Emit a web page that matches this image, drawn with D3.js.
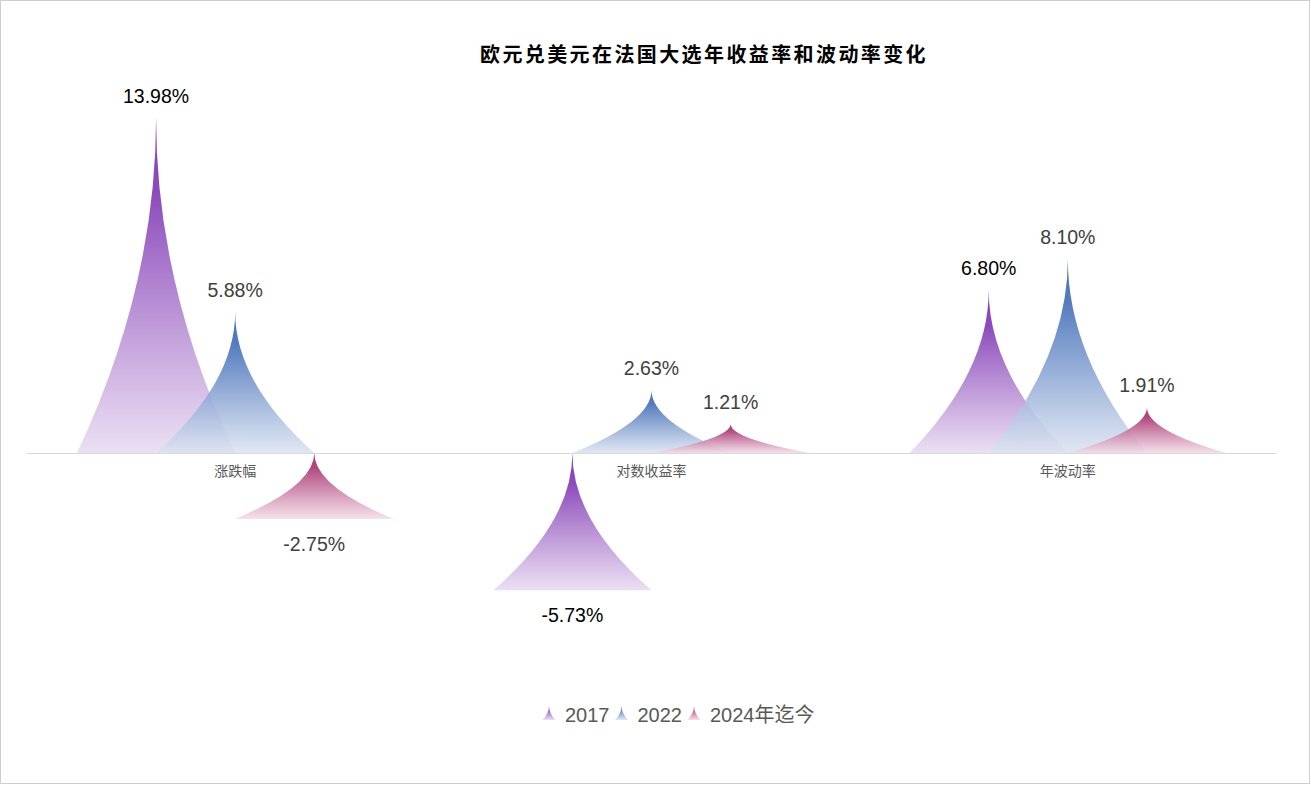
<!DOCTYPE html>
<html>
<head>
<meta charset="utf-8">
<script src="https://cdn.jsdelivr.net/npm/d3@7/dist/d3.min.js"></script>
<style>
  body { margin: 0; background: #fff; }
  text { font-family: "Liberation Sans", "Noto Sans CJK SC", sans-serif; }
</style>
</head>
<body>
<svg id="chart" width="1311" height="795"></svg>
<script>
// data (percent)
const categories = ['涨跌幅', '对数收益率', '年波动率'];
const seriesNames = ['2017', '2022', '2024年迄今'];
const values2017 = [13.98, -5.73, 6.80];
const values2022 = [5.88, 2.63, 8.10];
const values2024 = [-2.75, 1.21, 1.91];
const seriesValues = [values2017, values2022, values2024];

const colors = [
  { id: 'g2017', dark: '#8641b8', pale: '#e8daf1', label: '#000000' },
  { id: 'g2022', dark: '#4b74bb', pale: '#dbe3f1', label: '#404040' },
  { id: 'g2024', dark: '#ac3f78', pale: '#f3dbe6', label: '#404040' }
];

const svg = d3.select('#chart');

svg.append('rect')
  .attr('x', 0.5).attr('y', 0.5)
  .attr('width', 1309).attr('height', 783)
  .attr('fill', '#fff')
  .attr('stroke', '#cfcfcf');

const defs = svg.append('defs');
colors.forEach(function(c) {
  const grad = defs.append('linearGradient')
    .attr('id', c.id)
    .attr('x1', 0).attr('y1', 0).attr('x2', 0).attr('y2', 1);
  grad.append('stop').attr('offset', '0%').attr('stop-color', c.dark).attr('stop-opacity', 1);
  grad.append('stop').attr('offset', '22%').attr('stop-color', c.dark).attr('stop-opacity', 0.95);
  grad.append('stop').attr('offset', '100%').attr('stop-color', c.pale).attr('stop-opacity', 0.85);
});

const plot = { left: 27, right: 1276, zero: 453 };

const x0 = d3.scaleBand()
  .domain(categories)
  .range([plot.left, plot.right]);

const spread = x0.bandwidth() * 0.19;
const x1 = d3.scalePoint()
  .domain(seriesNames)
  .range([-spread, spread]);

const y = d3.scaleLinear()
  .domain([0, 14])
  .range([plot.zero, plot.zero - 14 * 23.96]);

// title
svg.append('text')
  .attr('x', 704)
  .attr('y', 62)
  .attr('text-anchor', 'middle')
  .style('font-size', '20px')
  .style('font-weight', 'bold')
  .style('letter-spacing', '2.4px')
  .style('fill', '#000')
  .text('欧元兑美元在法国大选年收益率和波动率变化');

// zero line
svg.append('line')
  .attr('x1', plot.left).attr('x2', plot.right)
  .attr('y1', y(0) + 0.5).attr('y2', y(0) + 0.5)
  .attr('stroke', '#d9d9d9')
  .attr('stroke-width', 1);

// spike path: point on top, wide base below, concave sides
function spike(cx, top, base, w) {
  const mid = (top + base) / 2;
  return 'M' + (cx - w) + ',' + base +
    'Q' + cx + ',' + mid + ' ' + cx + ',' + top +
    'Q' + cx + ',' + mid + ' ' + (cx + w) + ',' + base + 'Z';
}

const points = [];
seriesNames.forEach(function(s, i) {
  categories.forEach(function(cat, j) {
    points.push({ series: s, si: i, cat: cat, value: seriesValues[i][j] });
  });
});

const marks = svg.append('g');
marks.selectAll('path')
  .data(points)
  .enter().append('path')
    .attr('d', function(d) {
      const cx = x0(d.cat) + x0.bandwidth() / 2 + x1(d.series);
      const top = Math.min(y(d.value), y(0));
      const base = Math.max(y(d.value), y(0));
      return spike(cx, top, base, spread);
    })
    .attr('fill', function(d) { return 'url(#' + colors[d.si].id + ')'; });

// value labels
svg.append('g').selectAll('text')
  .data(points)
  .enter().append('text')
    .attr('x', function(d) { return x0(d.cat) + x0.bandwidth() / 2 + x1(d.series); })
    .attr('y', function(d) { return d.value >= 0 ? y(d.value) - 15 : y(d.value) + 32; })
    .attr('text-anchor', 'middle')
    .style('font-size', '19.5px')
    .style('fill', function(d) { return colors[d.si].label; })
    .text(function(d) { return d.value.toFixed(2) + '%'; });

// category labels
svg.append('g').selectAll('text')
  .data(categories)
  .enter().append('text')
    .attr('x', function(d) { return x0(d) + x0.bandwidth() / 2; })
    .attr('y', y(0) + 23)
    .attr('text-anchor', 'middle')
    .style('font-size', '14px')
    .style('fill', '#595959')
    .text(function(d) { return d; });

// legend
const legend = svg.append('g');
let lx = 543;
seriesNames.forEach(function(s, i) {
  legend.append('path')
    .attr('d', spike(lx + 6, 706, 720, 6.5))
    .attr('fill', 'url(#' + colors[i].id + ')');
  const t = legend.append('text')
    .attr('x', lx + 22)
    .attr('y', 722)
    .style('font-size', '20px')
    .style('fill', '#595959')
    .text(s);
  lx += 22 + t.node().getComputedTextLength() + 6;
});
</script>
</body>
</html>
